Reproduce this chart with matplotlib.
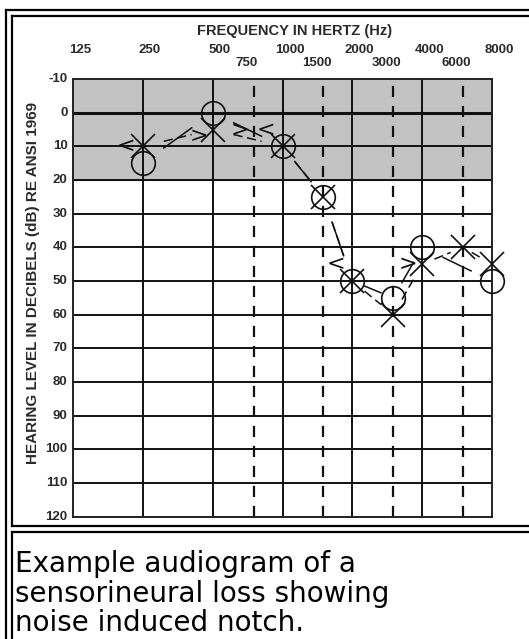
import numpy as np
import matplotlib
matplotlib.use("Agg")
import matplotlib.pyplot as plt
from matplotlib.lines import Line2D

# ---------------------------------------------------------------
# data
# ---------------------------------------------------------------
octave_freqs = [125, 250, 500, 1000, 2000, 4000, 8000]
mid_freqs = [750, 1500, 3000, 6000]
db_ticks = list(range(-10, 130, 10))

# right ear air conduction (O)
right_freqs = [250, 500, 1000, 1500, 2000, 3000, 4000, 8000]
right_db = [15, 0, 10, 25, 50, 55, 40, 50]

# left ear air conduction (X)
left_freqs = [250, 500, 1000, 1500, 2000, 3000, 4000, 6000, 8000]
left_db = [10, 5, 10, 25, 50, 60, 45, 40, 45]

# bone conduction marks
bc_right_freqs = [250, 1000, 2000]
bc_right_db = [10, 5, 45]
bc_left_freqs = [500, 750, 4000]
bc_left_db = [7, 5, 45]

caption = ["Example audiogram of a", "sensorineural loss showing", "noise induced notch."]

W, H = 529, 639
fig = plt.figure(figsize=(W / 100, H / 100), dpi=100)
fig.patch.set_facecolor("white")

def fx(px):
    return px / W

def fy(py):
    return 1 - py / H

# page borders (html table look)
bw = 1.6
for xs, ys in [([5.5, 5.5], [10, 639]), ([5.5, 529], [10, 10]),
               ([12, 12], [16, 526]), ([12, 529], [16, 16]), ([12, 529], [526, 526]),
               ([12, 12], [532, 639]), ([12, 529], [532, 532])]:
    fig.add_artist(Line2D([fx(x) for x in xs], [fy(y) for y in ys], color="black", lw=bw))

# ---------------------------------------------------------------
# audiogram axes
# ---------------------------------------------------------------
left, right, top, bottom = 73, 492, 79, 516.7
ax = fig.add_axes([fx(left), fy(bottom), fx(right - left), (bottom - top) / H])
ax.set_xscale("log", base=2)
ax.set_xlim(125, 8000)
ax.set_ylim(120, -10)
ax.set_xticks([])
ax.set_yticks([])
ax.minorticks_off()
for s in ax.spines.values():
    s.set_linewidth(1.4)
    s.set_color("#222222")

ax.axhspan(-10, 20, color="#c2c2c2", zorder=0)

for f in octave_freqs[1:-1]:
    ax.axvline(f, color="#111111", lw=1.4, zorder=1)
for f in mid_freqs:
    ax.axvline(f, color="#111111", lw=1.6, ls=(0, (5, 4)), zorder=1)
for d in db_ticks[1:-1]:
    ax.axhline(d, color="#111111", lw=2.2 if d == 0 else 1.4, zorder=1)

# frequency labels on top
fam = ["Liberation Sans", "DejaVu Sans"]
lab_font = dict(family=fam, color="#2a2a2a", fontsize=9.5, fontweight="bold")
for f in octave_freqs:
    ax.annotate(str(f), xy=(f, 1), xycoords=("data", "axes fraction"),
                xytext=(5, 21), textcoords="offset points", ha="center", va="center", **lab_font)
for f in mid_freqs:
    ax.annotate(str(f), xy=(f, 1), xycoords=("data", "axes fraction"),
                xytext=(-5, 11.5), textcoords="offset points", ha="center", va="center", **lab_font)
for d in db_ticks:
    ax.annotate(str(d), xy=(0, d), xycoords=("axes fraction", "data"),
                xytext=(-4, 0), textcoords="offset points", ha="right", va="center", **lab_font)

fig.text(fx(295), fy(31), "FREQUENCY IN HERTZ (Hz)", ha="center", va="center",
         family=fam, color="#2a2a2a", fontsize=10.5, fontweight="bold")
fig.text(fx(33), fy(283), "HEARING LEVEL IN DECIBELS (dB) RE ANSI 1969", rotation=90,
         ha="center", va="center", family=fam, color="#2a2a2a", fontsize=11, fontweight="bold")

# ---------------------------------------------------------------
# hand drawn symbols and connecting lines
# ---------------------------------------------------------------
def connect(freqs, dbs, ls, gap=0.3):
    lx = np.log2(freqs)
    for i in range(len(freqs) - 1):
        x0, x1 = lx[i], lx[i + 1]
        y0, y1 = dbs[i], dbs[i + 1]
        xa = x0 + gap * (x1 - x0)
        xb = x1 - gap * (x1 - x0)
        ya = y0 + gap * (y1 - y0)
        yb = y1 - gap * (y1 - y0)
        ax.plot([2 ** xa, 2 ** xb], [ya, yb], color="#111111", lw=1.1, ls=ls, zorder=3)

connect(right_freqs, right_db, "-")
connect(left_freqs, left_db, (0, (6, 3)))

ax.plot(right_freqs, right_db, ls="none", marker="o", ms=17, mfc="none",
        mec="#111111", mew=1.2, zorder=4, clip_on=False)
ax.plot(left_freqs, left_db, ls="none", marker="x", ms=17,
        mec="#111111", mew=1.2, zorder=4, clip_on=False)
for f, d in zip(bc_right_freqs, bc_right_db):
    ax.annotate("<", xy=(f, d), xytext=(-12, 0), textcoords="offset points",
                ha="center", va="center", fontsize=16, color="#111111", zorder=4)
for f, d in zip(bc_left_freqs, bc_left_db):
    ax.annotate(">", xy=(f, d), xytext=(-10, 0), textcoords="offset points",
                ha="center", va="center", fontsize=16, color="#111111", zorder=4)

# caption
for i, line in enumerate(caption):
    fig.text(fx(15), fy(572 + 29.5 * i), line, ha="left", va="baseline",
             family="DejaVu Sans", fontsize=20, color="black")

fig.savefig("out.png", dpi=100)
